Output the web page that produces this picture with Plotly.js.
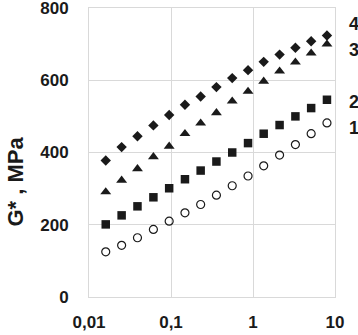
<!DOCTYPE html>
<html><head><meta charset="utf-8">
<script src="https://cdn.plot.ly/plotly-3.0.1.min.js"></script>
<style>html,body{margin:0;padding:0;background:#fff}#chart{width:358px;height:335px}</style>
</head><body><div id="chart"></div>
<script>
var freq = [0.016, 0.025, 0.039, 0.061, 0.095, 0.148, 0.23, 0.358, 0.558, 0.87, 1.35, 2.11, 3.29, 5.12, 7.98];
var g1 = [125, 143, 164, 187, 210, 233, 256, 282, 308, 335, 363, 393, 422, 452, 482];
var g2 = [201, 226, 251, 276, 301, 326, 350, 375, 400, 426, 452, 476, 500, 523, 546];
var g3 = [291, 323, 355, 388, 417, 452, 481, 510, 542, 569, 597, 625, 650, 675, 700];
var g4 = [378, 415, 445, 475, 504, 532, 555, 581, 606, 628, 651, 671, 690, 708, 724];
var seriesLabels = ['1', '2', '3', '4'];
var labelY = [469, 539, 683, 756];
var xTickVals = [0.01, 0.1, 1, 10];
var xTickText = ['0,01', '0,1', '1', '10'];
var yTickVals = [0, 200, 400, 600, 800];

var fontFam = '"Liberation Sans", Arial, sans-serif';
var traces = [
  {x: freq, y: g1, mode: 'markers', type: 'scatter', marker: {symbol: 'circle-open', size: 8, color: '#1a1a1a', line: {width: 1.2, color: '#1a1a1a'}}},
  {x: freq, y: g2, mode: 'markers', type: 'scatter', marker: {symbol: 'square', size: 8.5, color: '#1a1a1a'}},
  {x: freq, y: g3, mode: 'markers', type: 'scatter', marker: {symbol: 'triangle-up', size: 9.5, color: '#1a1a1a'}},
  {x: freq, y: g4, mode: 'markers', type: 'scatter', marker: {symbol: 'diamond', size: 8, color: '#1a1a1a'}}
];
var annotations = seriesLabels.map(function (t, i) {
  return {text: t, xref: 'paper', yref: 'y', x: 1.05, y: labelY[i], xanchor: 'left', yanchor: 'middle', showarrow: false,
    font: {family: fontFam, size: 18, color: '#1a1a1a', weight: 'bold'}};
});
annotations.push({text: 'G* , MPa', xref: 'paper', yref: 'paper', x: -0.30, y: 0.40, textangle: -90, showarrow: false,
  xanchor: 'center', yanchor: 'middle', font: {family: fontFam, size: 22, color: '#1a1a1a', weight: 'bold'}});

var layout = {
  width: 358, height: 335,
  margin: {l: 89, r: 23, t: 8, b: 38},
  paper_bgcolor: '#fff', plot_bgcolor: '#fff',
  showlegend: false,
  xaxis: {type: 'log', range: [-2, 1], tickvals: xTickVals, ticktext: xTickText, showgrid: true, gridcolor: '#d9d9d9', gridwidth: 1,
    zeroline: false, showline: true, mirror: true, linecolor: '#d9d9d9', linewidth: 1, ticks: '', ticklabelstandoff: 10, ticklabeloverflow: 'allow',
    tickfont: {family: fontFam, size: 17, color: '#1a1a1a', weight: 'bold'}},
  yaxis: {range: [0, 800], tickvals: yTickVals, showgrid: true, gridcolor: '#d9d9d9', gridwidth: 1,
    zeroline: false, showline: true, mirror: true, linecolor: '#d9d9d9', linewidth: 1, ticks: '', ticklabelstandoff: 16, ticklabeloverflow: 'allow',
    tickfont: {family: fontFam, size: 17, color: '#1a1a1a', weight: 'bold'}},
  annotations: annotations
};
Plotly.newPlot('chart', traces, layout, {staticPlot: true, displayModeBar: false});
</script></body></html>
